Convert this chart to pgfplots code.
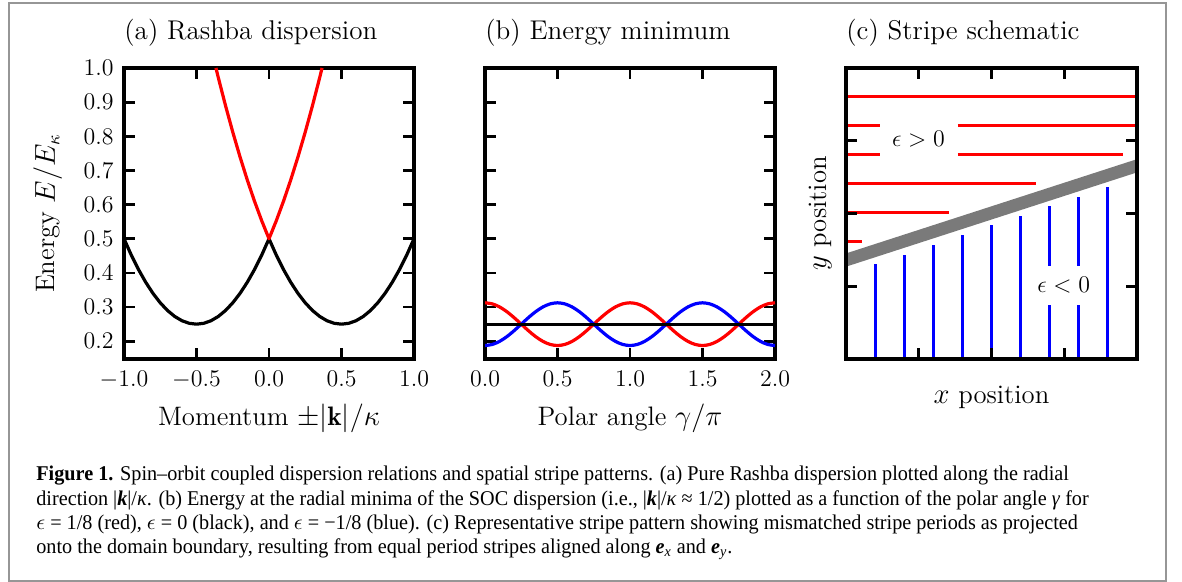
\documentclass[border=0pt]{standalone}
\usepackage{pgfplots}
\pgfplotsset{compat=1.18}
\usepackage{pgfplotstable}
\usepackage{fontspec}
\newfontfamily\capfont[FakeStretch=0.962]{Liberation Serif}

\definecolor{framegray}{RGB}{150,150,150}
\definecolor{bandgray}{RGB}{122,122,122}

% (a) Rashba dispersion, lower and upper branch
\pgfplotstableread{
k E
-1.00 0.5
-0.95 0.4525
-0.90 0.41
-0.85 0.3725
-0.80 0.34
-0.75 0.3125
-0.70 0.29
-0.65 0.2725
-0.60 0.26
-0.55 0.2525
-0.50 0.25
-0.45 0.2525
-0.40 0.26
-0.35 0.2725
-0.30 0.29
-0.25 0.3125
-0.20 0.34
-0.15 0.3725
-0.10 0.41
-0.05 0.4525
0.00 0.5
0.05 0.4525
0.10 0.41
0.15 0.3725
0.20 0.34
0.25 0.3125
0.30 0.29
0.35 0.2725
0.40 0.26
0.45 0.2525
0.50 0.25
0.55 0.2525
0.60 0.26
0.65 0.2725
0.70 0.29
0.75 0.3125
0.80 0.34
0.85 0.3725
0.90 0.41
0.95 0.4525
1.00 0.5
}\lowerbranch

\pgfplotstableread{
k E
-0.366 1.0
-0.35 0.9725
-0.30 0.89
-0.25 0.8125
-0.20 0.74
-0.15 0.6725
-0.10 0.61
-0.05 0.5525
0.00 0.5
0.05 0.5525
0.10 0.61
0.15 0.6725
0.20 0.74
0.25 0.8125
0.30 0.89
0.35 0.9725
0.366 1.0
}\upperbranch

% (b) energy at the radial minimum vs polar angle
\pgfplotstableread{
g red blue
0.00 0.3125 0.1875
0.05 0.30944 0.19056
0.10 0.30056 0.19944
0.15 0.28674 0.21326
0.20 0.26931 0.23069
0.25 0.25 0.25
0.30 0.23069 0.26931
0.35 0.21326 0.28674
0.40 0.19944 0.30056
0.45 0.19056 0.30944
0.50 0.1875 0.3125
0.55 0.19056 0.30944
0.60 0.19944 0.30056
0.65 0.21326 0.28674
0.70 0.23069 0.26931
0.75 0.25 0.25
0.80 0.26931 0.23069
0.85 0.28674 0.21326
0.90 0.30056 0.19944
0.95 0.30944 0.19056
1.00 0.3125 0.1875
1.05 0.30944 0.19056
1.10 0.30056 0.19944
1.15 0.28674 0.21326
1.20 0.26931 0.23069
1.25 0.25 0.25
1.30 0.23069 0.26931
1.35 0.21326 0.28674
1.40 0.19944 0.30056
1.45 0.19056 0.30944
1.50 0.1875 0.3125
1.55 0.19056 0.30944
1.60 0.19944 0.30056
1.65 0.21326 0.28674
1.70 0.23069 0.26931
1.75 0.25 0.25
1.80 0.26931 0.23069
1.85 0.28674 0.21326
1.90 0.30056 0.19944
1.95 0.30944 0.19056
2.00 0.3125 0.1875
}\minimum

\pgfplotsset{
  panel/.style={
    scale only axis,
    width=145bp, height=145.5bp,
    axis line style={line width=1.6bp},
    tick style={line width=1.4bp, black},
    major tick length=5.5bp,
    tick align=inside,
    ticklabel style={font=\fontsize{13}{15}\selectfont},
    xticklabel style={yshift=-2.7bp},
    yticklabel style={xshift=-1.7bp},
    label style={font=\fontsize{13.4}{16}\selectfont},
    title style={font=\fontsize{13.6}{16}\selectfont, at={(0,1)},
      anchor=base west, yshift=8.5bp, inner sep=0pt},
    xlabel style={at={(axis description cs:0.5,-0.2268)}, anchor=base},
    onedec/.style={
      /pgf/number format/fixed,
      /pgf/number format/fixed zerofill,
      /pgf/number format/precision=1},
  },
}

\begin{document}
\begin{tikzpicture}
\useasboundingbox (0,0) rectangle (591bp,291bp);
\draw[framegray, line width=0.7bp] (4.5bp,0.5bp) rectangle (583bp,289.5bp);

% (a)
\begin{axis}[panel,
    at={(62bp,111.5bp)}, anchor=south west,
    title={(a) Rashba dispersion},
    xlabel={Momentum $\pm|\mathbf{k}|/\kappa$},
    ylabel={Energy $E/E_\kappa$},
    ylabel style={at={(axis description cs:-0.238,0.5)}, anchor=base},
    xmin=-1, xmax=1, ymin=0.148, ymax=1,
    xtick={-1,-0.5,0,0.5,1},
    ytick={0.2,0.3,0.4,0.5,0.6,0.7,0.8,0.9,1.0},
    xticklabel style={onedec}, yticklabel style={onedec},
]
\addplot[black, line width=1.6bp, line join=round] table[x=k, y=E] {\lowerbranch};
\addplot[red, line width=1.6bp, line join=round] table[x=k, y=E] {\upperbranch};
\end{axis}

% (b)
\begin{axis}[panel,
    at={(242.5bp,111.5bp)}, anchor=south west,
    title={(b) Energy minimum},
    xlabel={Polar angle $\gamma/\pi$},
    xmin=0, xmax=2, ymin=0.148, ymax=1,
    xtick={0,0.5,1,1.5,2},
    ytick={0.2,0.3,0.4,0.5,0.6,0.7,0.8,0.9,1.0},
    yticklabels={},
    xticklabel style={onedec},
]
\addplot[red, line width=1.6bp, smooth] table[x=g, y=red] {\minimum};
\addplot[blue, line width=1.6bp, smooth] table[x=g, y=blue] {\minimum};
\addplot[black, line width=1.4bp] coordinates {(0,0.25) (2,0.25)};
\end{axis}

% (c)
\begin{axis}[panel,
    at={(423bp,111.5bp)}, anchor=south west,
    width=145.5bp,
    axis on top,
    title={(c) Stripe schematic},
    xlabel={$x$ position},
    ylabel={$y$ position},
    xlabel style={at={(axis description cs:0.5,-0.1517)}, anchor=base},
    ylabel style={at={(axis description cs:-0.0687,0.5)}, anchor=base},
    xmin=0, xmax=1, ymin=0, ymax=1,
    xtick={0.25,0.5,0.75}, ytick={0.25,0.5,0.75},
    xticklabels={}, yticklabels={},
]
\addplot[red, line width=1.5bp, unbounded coords=jump] table {
x y
0 0.902
1 0.902
nan nan
0 0.802
0.117 0.802
nan nan
0.384 0.802
1 0.802
nan nan
0 0.703
0.117 0.703
nan nan
0.384 0.703
0.952 0.703
nan nan
0 0.603
0.654 0.603
nan nan
0 0.504
0.354 0.504
nan nan
0 0.404
0.056 0.404
};
\addplot[blue, line width=1.5bp, unbounded coords=jump] table {
x y
0.1 0
0.1 0.325
nan nan
0.2 0
0.2 0.356
nan nan
0.3 0
0.3 0.392
nan nan
0.4 0
0.4 0.425
nan nan
0.5 0
0.5 0.459
nan nan
0.6 0
0.6 0.490
nan nan
0.7 0
0.7 0.184
nan nan
0.7 0.321
0.7 0.525
nan nan
0.8 0
0.8 0.184
nan nan
0.8 0.321
0.8 0.557
nan nan
0.9 0
0.9 0.591
};
\addplot[bandgray, line width=6.3bp] coordinates {(-0.05,0.3238) (1.05,0.6802)};
\node[font=\fontsize{13}{15}\selectfont] at (axis cs:0.249,0.755) {$\epsilon > 0$};
\node[font=\fontsize{13}{15}\selectfont] at (axis cs:0.748,0.253) {$\epsilon < 0$};
\end{axis}

% caption
\begin{scope}[every node/.style={anchor=base west, inner sep=0pt,
    font=\capfont\fontsize{10.5bp}{12bp}\selectfont}]
\node at (18bp,50.5bp) {\textbf{Figure 1.} Spin–orbit coupled dispersion relations and spatial stripe patterns. (a) Pure Rashba dispersion plotted along the radial};
\node at (18bp,38.5bp) {direction |\textbf{\textit{k}}|/\textit{κ}. (b) Energy at the radial minima of the SOC dispersion (i.e., |\textbf{\textit{k}}|/\textit{κ} ≈ 1/2) plotted as a function of the polar angle \textit{γ} for};
\node at (18bp,26.5bp) {$\epsilon$ = 1/8 (red), $\epsilon$ = 0 (black), and $\epsilon$ = −1/8 (blue). (c) Representative stripe pattern showing mismatched stripe periods as projected};
\node at (18bp,14.5bp) {onto the domain boundary, resulting from equal period stripes aligned along \textbf{\textit{e}}\textsubscript{\textit{x}} and \textbf{\textit{e}}\textsubscript{\textit{y}}.};
\end{scope}
\end{tikzpicture}
\end{document}
